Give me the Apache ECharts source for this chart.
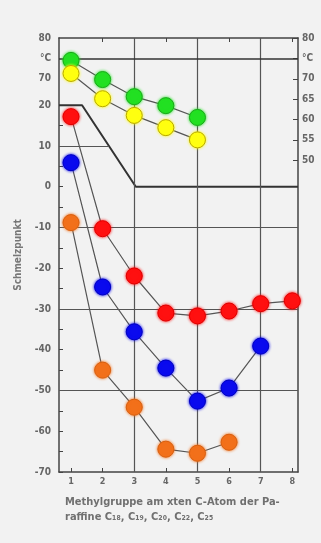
<!DOCTYPE html>
<html><head><meta charset="utf-8">
<script src="https://cdn.jsdelivr.net/npm/echarts@6/dist/echarts.min.js"></script>
<style>html,body{margin:0;padding:0;background:#f2f2f2}#c{width:321px;height:543px}</style>
</head><body><div id="c"></div>
<script>
// x positions (methyl group position)
const xPos = [1, 2, 3, 4, 5, 6, 7, 8];
// right axis series (°C, 50..80 scale)
const green  = [74.5, 69.8, 65.6, 63.4, 60.5];
const yellow = [71.3, 65.1, 61.0, 58.0, 55.0];
// left axis series
const red    = [17.2, -10.3, -21.9, -31.0, -31.7, -30.5, -28.7, -28.0];
const blue   = [5.9, -24.6, -35.6, -44.5, -52.6, -49.4, -39.1];
const orange = [-8.8, -45.0, -54.1, -64.4, -65.4, -62.7];
// reference polyline
const refX = [0.62, 1.35, 3.05, 8.18];
const refY = [20, 20, 0, 0];
// tick labels
const leftTicks = [-70, -60, -50, -40, -30, -20, -10, 0, 10, 20];
const rightTicks = [50, 55, 60, 65, 70, 75, 80];
const rightLabels = {80: '80', 75: '°C', 70: '70', 65: '65', 60: '60', 55: '55', 50: '50'};
const leftTopLabels = {80: '80', 75: '°C', 70: '70'};
const xTicks = [1, 2, 3, 4, 5, 6, 7, 8];
const topTicks = [2, 4, 6, 8];
const hGridLeft = [-50, -30, -10];
const hGridRight = [75];
const vGrid = [3, 5, 7];
const xTitle = 'Methylgruppe am xten C-Atom der Pa-\nraffine C₁₈, C₁₉, C₂₀, C₂₂, C₂₅';
const yTitle = 'Schmelzpunkt';

const X_MIN = 0.62, X_MAX = 8.18;
const L_MIN = -70, L_MAX = 36.5;
const R_MIN = -26.5, R_MAX = 80;

const lineC = '#555';
const axC = '#444';
const font = 'DejaVu Sans Condensed';
const pair = (xs, ys) => ys.map((v, i) => [xs[i], v]);

function pointSeries(data, color, border, yIdx) {
  return {
    type: 'line', data: pair(xPos, data), yAxisIndex: yIdx,
    symbol: 'circle', symbolSize: 16,
    lineStyle: {color: lineC, width: 1.2},
    itemStyle: {color: color, borderColor: border, borderWidth: 1, shadowBlur: 3, shadowColor: color},
    z: 5, animation: false
  };
}

const chart = echarts.init(document.getElementById('c'), null, {renderer: 'canvas'});
chart.setOption({
  backgroundColor: '#f2f2f2',
  animation: false,
  title: {
    text: xTitle, left: 60, top: 490,
    textStyle: {fontFamily: font, fontSize: 11, fontWeight: 'bold', color: '#707070', lineHeight: 15}
  },
  grid: {left: 59, right: 23, top: 38, bottom: 71},
  xAxis: [{
    type: 'value', min: X_MIN, max: X_MAX,
    axisLine: {show: true, onZero: false, lineStyle: {color: axC, width: 1.5}},
    axisTick: {show: true, inside: true, length: 4, customValues: xTicks, lineStyle: {color: axC}},
    axisLabel: {customValues: xTicks, color: '#666', fontFamily: font, fontSize: 9, fontWeight: 'bold', margin: 5},
    splitLine: {show: false}
  }, {
    type: 'value', min: X_MIN, max: X_MAX, position: 'top',
    axisLine: {show: true, onZero: false, lineStyle: {color: axC, width: 1.5}},
    axisTick: {show: true, inside: true, length: 4, customValues: topTicks, lineStyle: {color: axC}},
    axisLabel: {show: false},
    splitLine: {show: false}
  }],
  yAxis: [{
    type: 'value', min: L_MIN, max: L_MAX, position: 'left',
    name: yTitle, nameLocation: 'middle', nameGap: 36, nameRotate: 90,
    nameTextStyle: {fontFamily: font, fontSize: 10, fontWeight: 'bold', color: '#777'},
    axisLine: {show: true, onZero: false, lineStyle: {color: axC, width: 1.5}},
    axisTick: {show: true, inside: true, length: 4, customValues: [-70,-65,-60,-55,-50,-45,-40,-35,-30,-25,-20,-15,-10,-5,0,5,10,15,20], lineStyle: {color: axC}},
    axisLabel: {customValues: leftTicks, color: '#666', fontFamily: font, fontSize: 10, fontWeight: 'bold', margin: 8},
    splitLine: {show: false}
  }, {
    type: 'value', min: R_MIN, max: R_MAX, position: 'right',
    axisLine: {show: true, onZero: false, lineStyle: {color: axC, width: 1.5}},
    axisTick: {show: true, inside: true, length: 5, customValues: rightTicks, lineStyle: {color: axC}},
    axisLabel: {customValues: rightTicks, formatter: v => rightLabels[v] || '', color: '#666', fontFamily: font, fontSize: 10, fontWeight: 'bold', margin: 4},
    splitLine: {show: false}
  }, {
    type: 'value', min: R_MIN, max: R_MAX, position: 'left',
    axisLine: {show: false, onZero: false}, axisTick: {show: false},
    axisLabel: {customValues: [70, 75, 80], formatter: v => leftTopLabels[v] || '', color: '#666', fontFamily: font, fontSize: 10, fontWeight: 'bold', margin: 8},
    splitLine: {show: false}
  }],
  series: [
    {
      type: 'line', data: pair(refX, refY), yAxisIndex: 0, symbol: 'none',
      lineStyle: {color: '#333', width: 2}, z: 2,
      markLine: {
        silent: true, symbol: 'none', label: {show: false},
        lineStyle: {color: '#555', width: 1.2, type: 'solid'},
        data: hGridLeft.map(v => ({yAxis: v}))
          .concat(vGrid.map(v => ({xAxis: v})))
          .concat([[{coord: [X_MIN, 10]}, {coord: [2.2, 10]}]])
      }
    },
    Object.assign(pointSeries(green, '#22e022', '#1aa81a', 1), {
      markLine: {silent: true, symbol: 'none', label: {show: false},
        lineStyle: {color: '#333', width: 1.5, type: 'solid'},
        data: hGridRight.map(v => ({yAxis: v}))}
    }),
    pointSeries(yellow, '#ffff10', '#b8a800', 1),
    pointSeries(red, '#ff1010', '#e00000', 0),
    pointSeries(blue, '#0a0aee', '#0000c0', 0),
    pointSeries(orange, '#f2701a', '#d86010', 0)
  ]
});
</script></body></html>
